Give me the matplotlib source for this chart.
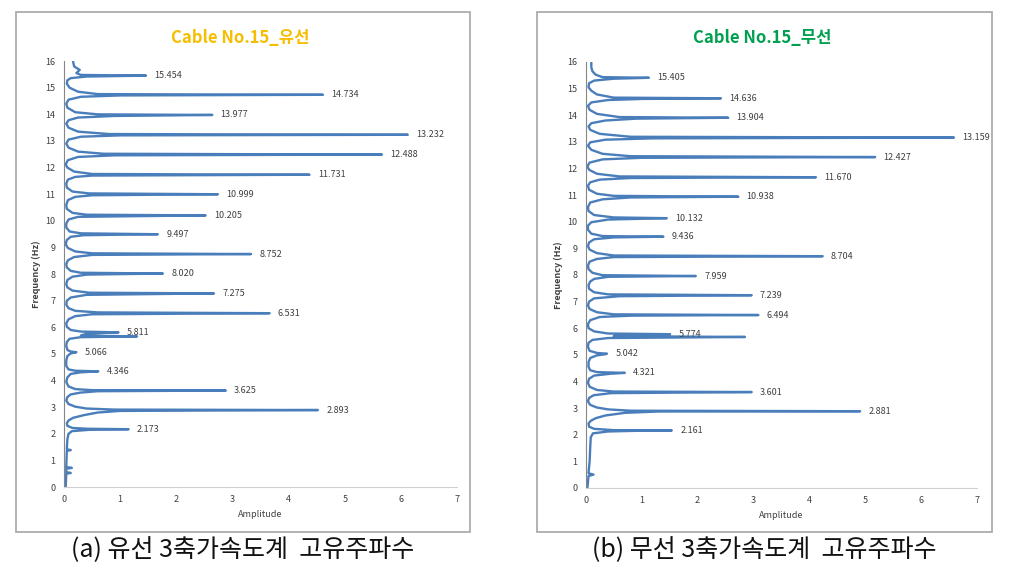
import matplotlib
matplotlib.use("Agg")
import matplotlib.pyplot as plt
import numpy as np
from matplotlib.patches import Rectangle

plt.rcParams['font.family'] = ['Noto Sans CJK KR', 'DejaVu Sans']

# labelled natural frequencies (Hz) and peak amplitudes
peak_freq_a = [2.173, 2.893, 3.625, 4.346, 5.066, 5.811, 6.531, 7.275, 8.020, 8.752,
               9.497, 10.205, 10.999, 11.731, 12.488, 13.232, 13.977, 14.734, 15.454]
peak_amp_a = [1.15, 4.52, 2.88, 0.61, 0.22, 0.97, 3.66, 2.67, 1.76, 3.33,
              1.67, 2.52, 2.74, 4.37, 5.66, 6.12, 2.64, 4.61, 1.46]

peak_freq_b = [2.161, 2.881, 3.601, 4.321, 5.042, 5.774, 6.494, 7.239, 7.959, 8.704,
               9.436, 10.132, 10.938, 11.670, 12.427, 13.159, 13.904, 14.636, 15.405]
peak_amp_b = [1.54, 4.91, 2.97, 0.70, 0.38, 1.51, 3.09, 2.97, 1.97, 4.24,
              1.39, 1.45, 2.73, 4.12, 5.18, 6.59, 2.55, 2.42, 1.13]

# spectrum: (frequency, amplitude)
spectrum_a = [
    (0, 0.03), (0.50, 0.04), (0.53, 0.12), (0.56, 0.04), (0.69, 0.04), (0.72, 0.14), (0.75, 0.04),
    (1.36, 0.05), (1.39, 0.12), (1.42, 0.05), (1.80, 0.06), (2.00, 0.08), (2.10, 0.14), (2.15, 0.45),
    (2.173, 1.15), (2.19, 0.42),
    (2.22, 0.15), (2.30, 0.06), (2.40, 0.05), (2.50, 0.08), (2.60, 0.16), (2.70, 0.35), (2.80, 0.6),
    (2.86, 1.0), (2.893, 4.52), (2.91, 0.9),
    (2.95, 0.4), (3.02, 0.2), (3.12, 0.08), (3.25, 0.04), (3.38, 0.06), (3.48, 0.12), (3.55, 0.3),
    (3.60, 0.6), (3.625, 2.88), (3.64, 0.5),
    (3.68, 0.2), (3.78, 0.08), (3.95, 0.04), (4.12, 0.06), (4.25, 0.12), (4.31, 0.3), (4.346, 0.61),
    (4.37, 0.2),
    (4.42, 0.08), (4.55, 0.04), (4.75, 0.04), (4.92, 0.06), (5.02, 0.12), (5.066, 0.22), (5.09, 0.12),
    (5.15, 0.06), (5.30, 0.04), (5.45, 0.05), (5.57, 0.1), (5.63, 0.3), (5.66, 1.3), (5.69, 0.3),
    (5.76, 0.4), (5.811, 0.97), (5.84, 0.3),
    (5.90, 0.12), (6.02, 0.05), (6.15, 0.04), (6.30, 0.08), (6.42, 0.2), (6.49, 0.5), (6.531, 3.66),
    (6.56, 0.6),
    (6.62, 0.2), (6.72, 0.08), (6.85, 0.04), (7.00, 0.05), (7.12, 0.12), (7.22, 0.4), (7.275, 2.67),
    (7.30, 0.45),
    (7.38, 0.15), (7.50, 0.06), (7.62, 0.04), (7.78, 0.06), (7.90, 0.15), (7.98, 0.4), (8.020, 1.76),
    (8.05, 0.3),
    (8.12, 0.12), (8.25, 0.05), (8.38, 0.04), (8.52, 0.07), (8.64, 0.18), (8.72, 0.5), (8.752, 3.33),
    (8.78, 0.5),
    (8.85, 0.2), (8.98, 0.07), (9.12, 0.03), (9.28, 0.05), (9.40, 0.12), (9.46, 0.35), (9.497, 1.67),
    (9.53, 0.3),
    (9.60, 0.1), (9.75, 0.04), (9.90, 0.04), (10.05, 0.08), (10.15, 0.25), (10.205, 2.52), (10.23, 0.4),
    (10.30, 0.15), (10.45, 0.05), (10.60, 0.04), (10.78, 0.07), (10.90, 0.2), (10.96, 0.5),
    (10.999, 2.74), (11.03, 0.45),
    (11.10, 0.15), (11.25, 0.05), (11.40, 0.04), (11.55, 0.07), (11.65, 0.2), (11.70, 0.5),
    (11.731, 4.37), (11.76, 0.5),
    (11.85, 0.18), (12.00, 0.06), (12.12, 0.03), (12.28, 0.07), (12.40, 0.25), (12.46, 0.9),
    (12.488, 5.66), (12.52, 0.7),
    (12.60, 0.25), (12.75, 0.08), (12.90, 0.04), (13.05, 0.08), (13.16, 0.3), (13.21, 1.0),
    (13.232, 6.12), (13.26, 0.8),
    (13.35, 0.25), (13.50, 0.08), (13.65, 0.04), (13.78, 0.08), (13.88, 0.25), (13.94, 0.9),
    (13.977, 2.64), (14.00, 0.6),
    (14.08, 0.2), (14.25, 0.06), (14.40, 0.04), (14.55, 0.08), (14.66, 0.3), (14.71, 1.0),
    (14.734, 4.61), (14.76, 0.6),
    (14.85, 0.25), (15.00, 0.1), (15.15, 0.05), (15.28, 0.06), (15.36, 0.12), (15.42, 0.4),
    (15.454, 1.46), (15.48, 0.3),
    (15.55, 0.22), (15.67, 0.28), (15.80, 0.18), (16.0, 0.16),
]

spectrum_b = [
    (0, 0.03), (0.45, 0.05), (0.50, 0.14), (0.55, 0.05), (1.00, 0.07), (1.50, 0.08), (1.90, 0.09),
    (2.05, 0.13), (2.12, 0.4), (2.15, 1.0), (2.161, 1.54), (2.17, 0.5),
    (2.22, 0.15), (2.30, 0.06), (2.42, 0.05), (2.52, 0.09), (2.62, 0.18), (2.72, 0.35), (2.82, 0.7),
    (2.87, 1.3), (2.881, 4.91), (2.90, 0.8),
    (2.95, 0.4), (3.02, 0.2), (3.12, 0.08), (3.25, 0.04), (3.38, 0.06), (3.48, 0.14), (3.56, 0.45),
    (3.601, 2.97), (3.62, 0.5),
    (3.68, 0.2), (3.80, 0.07), (3.95, 0.04), (4.10, 0.06), (4.22, 0.15), (4.29, 0.45), (4.321, 0.70),
    (4.35, 0.2),
    (4.42, 0.08), (4.55, 0.05), (4.72, 0.05), (4.88, 0.08), (4.98, 0.2), (5.02, 0.35), (5.042, 0.38),
    (5.07, 0.2),
    (5.15, 0.07), (5.30, 0.04), (5.45, 0.05), (5.56, 0.12), (5.63, 0.4), (5.67, 2.85), (5.70, 0.5),
    (5.75, 0.6), (5.774, 1.51), (5.80, 0.4),
    (5.88, 0.15), (6.00, 0.05), (6.15, 0.04), (6.30, 0.08), (6.42, 0.25), (6.47, 0.8), (6.494, 3.09),
    (6.52, 0.5),
    (6.60, 0.2), (6.72, 0.07), (6.85, 0.04), (7.00, 0.06), (7.12, 0.15), (7.20, 0.6), (7.239, 2.97),
    (7.27, 0.4),
    (7.35, 0.15), (7.48, 0.06), (7.62, 0.05), (7.75, 0.08), (7.85, 0.15), (7.93, 0.4), (7.959, 1.97),
    (7.99, 0.3),
    (8.08, 0.12), (8.22, 0.05), (8.35, 0.04), (8.50, 0.07), (8.60, 0.2), (8.67, 0.5), (8.704, 4.24),
    (8.73, 0.5),
    (8.82, 0.2), (8.95, 0.07), (9.08, 0.04), (9.22, 0.06), (9.34, 0.15), (9.41, 0.5), (9.436, 1.39),
    (9.46, 0.3),
    (9.55, 0.1), (9.70, 0.04), (9.85, 0.04), (9.98, 0.1), (10.08, 0.4), (10.132, 1.45), (10.16, 0.5),
    (10.25, 0.15), (10.40, 0.05), (10.55, 0.04), (10.72, 0.08), (10.84, 0.3), (10.91, 0.8),
    (10.938, 2.73), (10.97, 0.5),
    (11.05, 0.2), (11.20, 0.06), (11.35, 0.04), (11.48, 0.08), (11.58, 0.25), (11.64, 0.8),
    (11.670, 4.12), (11.70, 0.6),
    (11.80, 0.2), (11.95, 0.06), (12.08, 0.03), (12.22, 0.07), (12.34, 0.3), (12.40, 1.0),
    (12.427, 5.18), (12.46, 0.8),
    (12.55, 0.3), (12.70, 0.1), (12.85, 0.04), (12.98, 0.08), (13.08, 0.35), (13.13, 1.2),
    (13.159, 6.59), (13.19, 0.8),
    (13.30, 0.25), (13.45, 0.08), (13.58, 0.05), (13.70, 0.1), (13.80, 0.35), (13.87, 0.9),
    (13.904, 2.55), (13.93, 0.6),
    (14.05, 0.2), (14.20, 0.07), (14.35, 0.04), (14.48, 0.1), (14.57, 0.4), (14.61, 1.0),
    (14.636, 2.42), (14.66, 0.5),
    (14.78, 0.2), (14.92, 0.1), (15.05, 0.05), (15.20, 0.06), (15.30, 0.15), (15.37, 0.5),
    (15.405, 1.13), (15.43, 0.3),
    (15.52, 0.18), (15.65, 0.12), (15.80, 0.1), (16.0, 0.1),
]

titles = ["Cable No.15_유선", "Cable No.15_무선"]
title_colors = ["#F6BE00", "#00A050"]
captions = ["(a) 유선 3축가속도계  고유주파수", "(b) 무선 3축가속도계  고유주파수"]

LINE = "#4A7EBB"

fig = plt.figure(figsize=(10.16, 5.71), dpi=100)

panels = [
    dict(rect=[0.063, 0.147, 0.387, 0.746], frame=(16, 12, 470, 532), tx=0.236, cx=0.239,
         spec=spectrum_a, pf=peak_freq_a, pa=peak_amp_a),
    dict(rect=[0.5765, 0.1455, 0.385, 0.746], frame=(537, 12, 992, 532), tx=0.750, cx=0.752,
         spec=spectrum_b, pf=peak_freq_b, pa=peak_amp_b),
]

for i, p in enumerate(panels):
    x0, y0, x1, y1 = p["frame"]
    fig.patches.append(Rectangle((x0 / 1016, 1 - y1 / 571), (x1 - x0) / 1016, (y1 - y0) / 571,
                                 transform=fig.transFigure, fill=False,
                                 edgecolor="#a6a6a6", linewidth=1.2))

    ax = fig.add_axes(p["rect"])
    spec = np.array(p["spec"])
    ax.plot(spec[:, 1], spec[:, 0], color=LINE, linewidth=1.7, solid_joinstyle="round")

    for f, a in zip(p["pf"], p["pa"]):
        ax.annotate(f"{f:.3f}", xy=(a, f), xytext=(6, 0), textcoords="offset points",
                    va="center", ha="left", fontsize=6.5, color="#404040")

    ax.set_xlim(0, 7)
    ax.set_ylim(0, 16)
    ax.set_xticks(range(0, 8))
    ax.set_yticks(range(0, 17))
    ax.tick_params(length=0, labelsize=6.5, labelcolor="#404040", pad=6)
    for s in ["top", "right"]:
        ax.spines[s].set_visible(False)
    ax.spines["left"].set_color("#868686")
    ax.spines["bottom"].set_color("#d0d0d0")
    ax.set_xlabel("Amplitude", fontsize=6.5, color="#404040", labelpad=4)
    ax.set_ylabel("Frequency (Hz)", fontsize=6.5, fontweight="bold", color="#404040", labelpad=3)

    fig.text(p["tx"], 0.933, titles[i], ha="center", va="center", fontsize=12,
             fontweight="bold", color=title_colors[i])
    fig.text(p["cx"], 0.036, captions[i], ha="center", va="center", fontsize=18, color="#111111")

fig.savefig("out.png", dpi=100)
